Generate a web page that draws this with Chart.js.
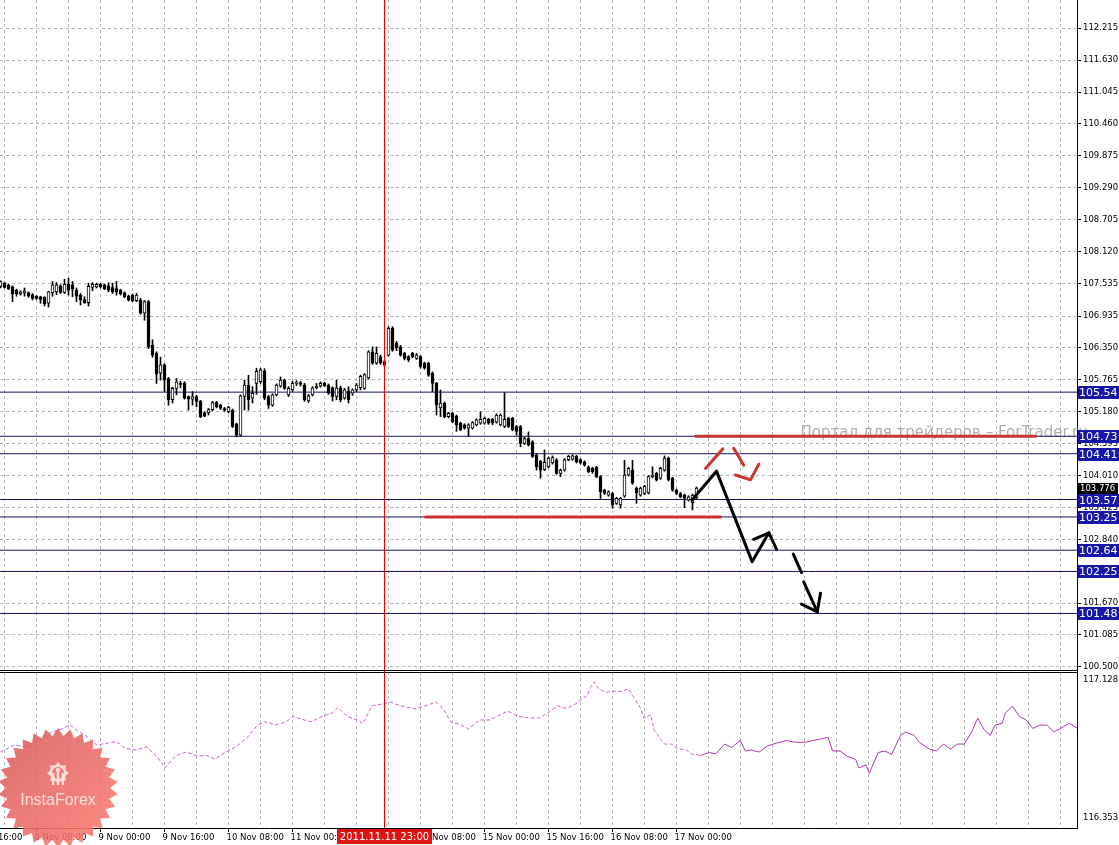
<!DOCTYPE html>
<html>
<head>
<meta charset="utf-8">
<script src="https://cdn.jsdelivr.net/npm/chart.js@4.4.0/dist/chart.umd.min.js"></script>
<style>
html, body { margin: 0; padding: 0; background: #fff; overflow: hidden; }
</style>
</head>
<body>
<canvas id="mtChart" width="1119" height="845"></canvas>
<script>
// H1 candles, bar 0 = 8 Nov 00:00, weekend skipped (14 Nov 00:00 = bar 96)
var firstBar = -1;
var candleOpen = [
107.48,107.54,107.50,107.47,107.41,107.34,107.36,107.36,107.33,107.30,
107.29,107.28,107.17,107.36,107.38,107.49,107.37,107.52,107.51,107.41,
107.32,107.24,107.18,107.46,107.47,107.52,107.51,107.49,107.46,107.44,
107.41,107.36,107.30,107.32,107.22,107.23,106.99,107.20,106.40,106.25,
105.89,106.04,105.79,105.40,105.61,105.70,105.71,105.46,105.41,105.46,
105.37,105.16,105.16,105.22,105.35,105.30,105.24,105.18,105.21,104.96,
104.75,105.46,105.67,105.43,105.70,105.73,105.93,105.46,105.30,105.49,
105.65,105.76,105.49,105.58,105.70,105.71,105.67,105.38,105.49,105.62,
105.65,105.70,105.67,105.62,105.46,105.62,105.43,105.56,105.52,105.58,
105.62,105.61,105.80,106.28,106.07,106.19,106.10,106.22,106.71,106.44,
106.37,106.25,106.19,106.25,106.16,106.19,106.07,106.07,105.89,105.70,
105.25,105.34,105.09,105.15,105.10,104.97,104.94,104.88,104.88,104.94,
104.97,104.97,105.04,105.04,104.99,104.94,104.91,105.06,105.06,104.91,
104.91,104.60,104.69,104.63,104.39,104.27,104.12,104.17,104.24,104.30,
104.05,104.11,104.30,104.31,104.36,104.30,104.26,104.17,104.14,104.16,
103.99,103.74,103.65,103.68,103.50,103.47,103.63,104.02,104.11,103.78,
103.65,103.68,103.69,103.99,104.05,103.96,104.11,104.33,103.96,103.74,
103.68,103.65,103.56,103.51,103.60
];
var candleHigh = [
107.58,107.56,107.52,107.49,107.43,107.40,107.45,107.38,107.35,107.31,
107.30,107.29,107.39,107.57,107.55,107.51,107.61,107.63,107.57,107.45,
107.35,107.29,107.54,107.55,107.54,107.54,107.52,107.55,107.54,107.57,
107.43,107.38,107.32,107.34,107.35,107.26,107.22,107.22,106.50,106.28,
106.18,106.06,105.81,105.63,105.79,105.74,105.73,105.47,105.55,105.48,
105.39,105.18,105.24,105.37,105.37,105.32,105.26,105.28,105.23,104.97,
105.49,105.76,105.85,105.64,105.98,105.98,105.97,105.48,105.51,105.69,
105.82,105.78,105.64,105.74,105.75,105.74,105.70,105.50,105.64,105.70,
105.73,105.72,105.69,105.64,105.76,105.65,105.61,105.64,105.60,105.70,
105.85,105.88,106.30,106.37,106.37,106.22,106.12,106.74,106.74,106.47,
106.40,106.27,106.21,106.27,106.25,106.21,106.09,106.09,105.91,105.72,
105.58,105.36,105.17,105.17,105.12,104.99,104.96,104.96,105.00,105.05,
105.18,105.08,105.06,105.06,105.14,105.14,105.53,105.08,105.08,104.93,
104.93,104.71,104.81,104.65,104.41,104.29,104.48,104.35,104.37,104.32,
104.13,104.32,104.38,104.39,104.38,104.32,104.28,104.19,104.16,104.18,
104.01,103.76,103.73,103.70,103.61,103.61,104.29,104.16,104.29,103.80,
103.80,103.83,104.01,104.17,104.07,104.16,104.37,104.35,103.98,103.76,
103.70,103.67,103.64,103.67,103.80
];
var candleLow = [
107.45,107.45,107.42,107.20,107.30,107.32,107.30,107.28,107.23,107.24,
107.17,107.12,107.10,107.30,107.33,107.35,107.35,107.32,107.29,107.20,
107.14,107.17,107.12,107.40,107.45,107.45,107.42,107.38,107.35,107.32,
107.32,107.27,107.21,107.20,107.20,106.97,106.86,106.34,106.18,105.70,
105.76,105.55,105.30,105.34,105.49,105.62,105.41,105.21,105.30,105.27,
105.07,105.09,105.12,105.20,105.25,105.22,105.19,105.16,104.89,104.72,
104.73,105.21,105.21,105.34,105.50,105.70,105.40,105.24,105.28,105.47,
105.63,105.59,105.46,105.55,105.66,105.65,105.37,105.35,105.47,105.60,
105.63,105.64,105.50,105.38,105.40,105.36,105.41,105.34,105.48,105.55,
105.58,105.59,105.78,106.05,106.05,106.05,106.00,106.20,106.29,106.30,
106.20,106.13,106.10,106.17,106.14,105.98,105.96,105.83,105.55,105.12,
105.09,105.07,105.07,104.98,104.82,104.83,104.86,104.73,104.86,104.92,
104.95,104.95,104.95,104.94,104.97,104.92,104.89,104.89,104.83,104.75,
104.54,104.58,104.55,104.34,104.11,103.96,104.10,104.15,104.22,104.03,
103.99,104.09,104.28,104.29,104.24,104.22,104.18,104.06,104.05,103.97,
103.59,103.66,103.63,103.41,103.48,103.41,103.61,104.00,103.85,103.50,
103.63,103.66,103.67,103.97,103.91,103.94,104.09,103.91,103.72,103.66,
103.60,103.42,103.54,103.38,103.58
];
var candleClose = [
107.57,107.46,107.44,107.34,107.34,107.38,107.40,107.30,107.26,107.26,
107.24,107.16,107.38,107.51,107.51,107.37,107.52,107.41,107.43,107.30,
107.23,107.18,107.48,107.52,107.52,107.47,107.44,107.41,107.38,107.38,
107.34,107.29,107.23,107.22,107.32,106.99,107.20,106.37,106.22,105.87,
106.04,105.76,105.40,105.61,105.73,105.68,105.43,105.41,105.46,105.37,
105.09,105.10,105.22,105.35,105.27,105.24,105.21,105.26,104.91,104.75,
105.47,105.67,105.40,105.52,105.92,105.95,105.43,105.30,105.49,105.67,
105.76,105.61,105.61,105.70,105.71,105.68,105.40,105.47,105.62,105.65,
105.70,105.66,105.52,105.46,105.62,105.40,105.58,105.40,105.58,105.67,
105.83,105.86,106.28,106.07,106.25,106.07,106.04,106.71,106.31,106.35,
106.22,106.16,106.13,106.19,106.22,106.01,105.98,105.85,105.70,105.30,
105.34,105.09,105.15,105.00,104.94,104.85,104.88,104.94,104.98,105.03,
105.04,105.06,104.97,104.97,105.12,105.12,105.04,104.91,104.85,104.82,
104.60,104.69,104.57,104.36,104.17,104.11,104.25,104.33,104.34,104.05,
104.11,104.30,104.36,104.37,104.26,104.24,104.20,104.08,104.08,103.99,
103.71,103.68,103.71,103.47,103.59,103.59,104.02,104.14,103.87,103.69,
103.78,103.81,103.99,104.02,103.93,104.14,104.33,103.93,103.74,103.68,
103.62,103.59,103.62,103.65,103.78
];
var lastPriceLabel = '103.776';

// lower window indicator (dotted part = history, solid = projection)
var indBars = [
-1, 2.5, 6.2, 8.8, 11.5, 14.2, 16.4, 18.2, 20.4, 23.1,
25.8, 28, 30.3, 32.9, 35.6, 38.3, 40.1, 42.8, 45.4, 48.1,
50.8, 52.5, 55.3, 57.9, 60.6, 63.3, 65, 67.8, 70.4, 72.2,
74.9, 76.7, 79.4, 82, 83.4, 85.6, 88.3, 89.6, 91.9, 94.5,
96.3, 99, 102.6, 105.3, 107.9, 109.7, 111.5, 114.2, 116, 118.7,
121.3, 124, 125.8, 128.5, 131.2, 133.8, 136.5, 138.3, 139.6, 140.9,
142.6, 144.3, 145.6, 146.5, 147.4, 148.6, 150.4, 152.1, 154.3, 156,
157.3, 159, 159.8, 161.6, 162.4, 163.7, 165, 166.7, 168.4, 170.2,
171.9, 174, 176.2, 177.9, 180, 181.8, 183.9, 185.2, 186.5, 188.7,
190.8, 193, 195.6, 197.7, 200.3, 202, 204.2, 205.9, 207, 208.9,
210.6, 212.8, 213.6, 215.4, 216.2, 218.4, 220.1, 221.8, 224, 225.3,
227.4, 228.7, 231.3, 233, 234.7, 236.5, 238.2, 239.9, 241.6, 243.3,
245, 246.4, 247.6, 249.4, 250.2, 252, 253.7, 255.4, 257.1, 258.8,
260.6, 262.3, 264, 266.2, 268.3
];
var indValues = [
116.728,116.763,116.753,116.789,116.827,116.844,116.865,116.836,116.809,116.763,
116.773,116.781,116.745,116.738,116.754,116.700,116.647,116.709,116.728,116.709,
116.709,116.692,116.728,116.754,116.799,116.865,116.881,116.865,116.881,116.908,
116.890,116.881,116.908,116.926,116.953,116.908,116.890,116.872,116.962,116.971,
116.981,116.962,116.946,116.962,116.981,116.946,116.881,116.865,116.844,116.890,
116.890,116.917,116.935,116.908,116.900,116.900,116.935,116.962,116.951,116.951,
116.969,116.995,117.012,117.056,117.082,117.047,117.030,117.035,117.035,117.047,
117.004,116.951,116.899,116.916,116.838,116.803,116.768,116.768,116.742,116.742,
116.716,116.711,116.725,116.719,116.768,116.751,116.786,116.733,116.738,116.728,
116.759,116.773,116.786,116.777,116.777,116.786,116.794,116.803,116.733,116.733,
116.707,116.690,116.647,116.663,116.620,116.725,116.733,116.716,116.812,116.829,
116.812,116.777,116.742,116.733,116.768,116.742,116.768,116.768,116.821,116.899,
116.838,116.812,116.864,116.873,116.925,116.960,116.908,116.890,116.847,116.864,
116.864,116.829,116.847,116.873,116.847
];
var indSolidFrom = 174;
var indScaleLabels = ['117.128', '116.353'];

// horizontal levels with their axis labels
var levelPrices = [105.54, 104.73, 104.41, 103.57, 103.25, 102.64, 102.25, 101.48];
var levelLabels = ['105.54', '104.73', '104.41', '103.57', '103.25', '102.64', '102.25', '101.48'];

// price scale labels as MT4 prints them
var priceTicks = [112.215, 111.630, 111.045, 110.460, 109.875, 109.290, 108.705, 108.120, 107.535,
  106.935, 106.350, 105.765, 105.180, 104.595, 104.010, 103.425, 102.840, 102.255, 101.670, 101.085, 100.500];
var priceTickLabels = ['112.215', '111.630', '111.045', '110.460', '109.875', '109.290', '108.705', '108.120', '107.535',
  '106.935', '106.350', '105.765', '105.180', '104.595', '104.010', '103.425', '102.840', '102.255', '101.670', '101.085', '100.500'];

// time scale
var timeTickBars = [-8, 8, 24, 40, 56, 72, 88, 104, 120, 136, 152, 168];
var timeTickLabels = ['7 Nov 16:00', '8 Nov 08:00', '9 Nov 00:00', '9 Nov 16:00', '10 Nov 08:00', '11 Nov 00:00',
  '11 Nov 16:00', '14 Nov 08:00', '15 Nov 00:00', '15 Nov 16:00', '16 Nov 08:00', '17 Nov 00:00'];
var crossBar = 95;
var crossLabel = '2011.11.11 23:00';

// hand drawn objects: [bars], [prices]
var resistBars = [172.75, 257.75], resistPrices = [104.73, 104.73];
var supportBars = [105.25, 179], supportPrices = [103.25, 103.25];
var arrowBars = [171.9, 178, 186.9, 191.1, 193], arrowPrices = [103.56, 104.09, 102.43, 102.96, 102.66];
var arrowTipBars = [187.3, 191.1], arrowTipPrices = [102.84, 102.96];
var dash1Bars = [197.2, 199.25], dash1Prices = [102.57, 102.23];
var dash2Bars = [199.8, 203.2], dash2Prices = [102.06, 101.51];
var head1Bars = [199.25, 203.2], head1Prices = [101.65, 101.51];
var head2Bars = [204, 203.2], head2Prices = [101.85, 101.51];
var redUpBars = [175.25, 179.6], redUpPrices = [104.14, 104.50];
var redDownBars = [182.3, 184.8], redDownPrices = [104.51, 104.20];
var redHeadBars = [182.75, 186.5, 188.6], redHeadPrices = [104.02, 103.93, 104.22];

var watermarkText = 'Портал для трейдеров – ForTrader.ru';
var watermarkBar = 199, watermarkPrice = 104.79;

var axisFont = {family: '"DejaVu Sans", sans-serif', size: 8.5};

function pts(xs, ys) {
  var out = [];
  for (var i = 0; i < xs.length; i++) out.push({x: xs[i], y: ys[i]});
  return out;
}

function drawLine(xs, ys, color, width, order, axis, dash) {
  return {
    type: 'line', data: pts(xs, ys), borderColor: color, borderWidth: width,
    pointRadius: 0, fill: false, tension: 0, order: order, yAxisID: axis || 'y',
    borderDash: dash || [], borderCapStyle: 'round', borderJoinStyle: 'round'
  };
}

var wickData = [], bodyData = [], bodyFill = [];
for (var i = 0; i < candleOpen.length; i++) {
  var b = firstBar + i, o = candleOpen[i], c = candleClose[i];
  wickData.push({x: b, y: [candleLow[i], candleHigh[i]]});
  bodyData.push({x: b, y: [Math.min(o, c), Math.max(o, c)]});
  bodyFill.push(c >= o ? '#ffffff' : '#000000');
}

var histBars = [], histVals = [], projBars = [], projVals = [];
for (var j = 0; j < indBars.length; j++) {
  if (indBars[j] <= indSolidFrom) { histBars.push(indBars[j]); histVals.push(indValues[j]); }
  if (indBars[j] >= indSolidFrom) { projBars.push(indBars[j]); projVals.push(indValues[j]); }
}

var datasets = [
  {type: 'bar', data: wickData, backgroundColor: '#000', borderWidth: 0, barThickness: 1, grouped: false, order: 6, yAxisID: 'y'},
  {type: 'bar', data: bodyData, backgroundColor: bodyFill, borderColor: '#000', borderWidth: 1, borderSkipped: false,
    barThickness: 3, minBarLength: 1, grouped: false, order: 5, yAxisID: 'y'},
  drawLine(histBars, histVals, '#c862c8', 1, 8, 'y2', [3, 3]),
  drawLine(projBars, projVals, '#a83aa8', 1, 8, 'y2'),
  drawLine(resistBars, resistPrices, '#cc3333', 3, 2),
  drawLine(supportBars, supportPrices, '#cc3333', 3, 2),
  drawLine(arrowBars, arrowPrices, '#000', 3, 1),
  drawLine(arrowTipBars, arrowTipPrices, '#000', 3, 1),
  drawLine(dash1Bars, dash1Prices, '#000', 3, 1),
  drawLine(dash2Bars, dash2Prices, '#000', 3, 1),
  drawLine(head1Bars, head1Prices, '#000', 3, 1),
  drawLine(head2Bars, head2Prices, '#000', 3, 1),
  drawLine(redUpBars, redUpPrices, '#cc3333', 3, 1),
  drawLine(redDownBars, redDownPrices, '#cc3333', 3, 1),
  drawLine(redHeadBars, redHeadPrices, '#cc3333', 3, 1)
];
for (var k = 0; k < levelPrices.length; k++) {
  datasets.push(drawLine([-2, 270], [levelPrices[k], levelPrices[k]], '#14145e', 1, 7));
}

function drawBadge(ctx, cx, cy) {
  var spikes = 30, R = 60, r = 52;
  ctx.save();
  ctx.globalAlpha = 0.88;
  var g = ctx.createLinearGradient(cx - R, cy - R, cx + R, cy + R);
  g.addColorStop(0, '#d65a5a');
  g.addColorStop(1, '#ff7c72');
  ctx.beginPath();
  for (var i = 0; i < spikes * 2; i++) {
    var a = Math.PI * i / spikes - Math.PI / 2;
    var rad = i % 2 ? r : R;
    ctx.lineTo(cx + rad * Math.cos(a), cy + rad * Math.sin(a));
  }
  ctx.closePath();
  ctx.fillStyle = g;
  ctx.fill();
  // little gear + figure icon
  var ix = cx, iy = cy - 15;
  ctx.fillStyle = '#ffe8e4';
  ctx.beginPath();
  for (var t = 0; t < 16; t++) {
    var an = Math.PI * t / 8;
    var rr = t % 2 ? 8 : 11;
    ctx.lineTo(ix + rr * Math.cos(an), iy + rr * Math.sin(an));
  }
  ctx.closePath();
  ctx.fill();
  ctx.fillStyle = '#e8706a';
  ctx.beginPath(); ctx.arc(ix, iy, 6, 0, Math.PI * 2); ctx.fill();
  ctx.fillStyle = '#ffe8e4';
  ctx.beginPath(); ctx.arc(ix, iy - 3, 2.2, 0, Math.PI * 2); ctx.fill();
  ctx.fillRect(ix - 1.2, iy - 1, 2.4, 13);
  ctx.fillRect(ix - 6, iy, 2.4, 12);
  ctx.fillRect(ix + 3.6, iy, 2.4, 12);
  ctx.font = '16px "Liberation Sans", Arial, sans-serif';
  ctx.textAlign = 'center';
  ctx.textBaseline = 'middle';
  ctx.fillText('InstaForex', cx, cy + 13);
  ctx.restore();
}

var mtOverlay = {
  id: 'mtOverlay',
  beforeDatasetsDraw: function(chart) {
    var ctx = chart.ctx;
    ctx.save();
    ctx.font = '15px "DejaVu Sans", sans-serif';
    ctx.fillStyle = 'rgba(150,150,150,0.75)';
    ctx.textBaseline = 'middle';
    ctx.fillText(watermarkText, chart.scales.x.getPixelForValue(watermarkBar), chart.scales.y.getPixelForValue(watermarkPrice));
    ctx.restore();
  },
  afterDraw: function(chart) {
    var ctx = chart.ctx, area = chart.chartArea;
    var ys = chart.scales.y, y2 = chart.scales.y2, xs = chart.scales.x;
    ctx.save();
    // crosshair
    var cx = xs.getPixelForValue(crossBar);
    ctx.fillStyle = '#ee0000';
    ctx.fillRect(Math.round(cx - 0.5), area.top, 1, area.bottom - area.top);
    // window separator
    var sep = Math.round(ys.bottom);
    ctx.fillStyle = '#000';
    ctx.fillRect(0, sep - 1, area.right, 1);
    ctx.fillRect(0, sep + 1, area.right, 1);
    // level labels on the price scale
    ctx.textBaseline = 'middle';
    ctx.textAlign = 'left';
    ctx.font = '11px "DejaVu Sans", sans-serif';
    for (var i = 0; i < levelPrices.length; i++) {
      var py = Math.round(ys.getPixelForValue(levelPrices[i]));
      ctx.fillStyle = '#1616aa';
      ctx.fillRect(area.right + 1, py - 6, 42, 13);
      ctx.fillStyle = '#fff';
      ctx.fillText(levelLabels[i], area.right + 2, py + 1);
    }
    // current bid
    var last = candleClose[candleClose.length - 1];
    var ly = Math.round(ys.getPixelForValue(last));
    ctx.font = '8.5px "DejaVu Sans", sans-serif';
    ctx.fillStyle = '#000';
    ctx.fillRect(area.right + 1, ly - 5, 40, 11);
    ctx.fillStyle = '#fff';
    ctx.fillText(lastPriceLabel, area.right + 3, ly + 0.5);
    // indicator window max / min
    ctx.fillStyle = '#000';
    ctx.fillText(indScaleLabels[0], area.right + 6, y2.top + 9);
    ctx.fillText(indScaleLabels[1], area.right + 6, y2.bottom - 10);
    // crosshair time label
    ctx.font = '10px "DejaVu Sans", sans-serif';
    var w = ctx.measureText(crossLabel).width + 6;
    ctx.fillStyle = '#dc1414';
    ctx.fillRect(Math.round(cx - w / 2), area.bottom + 1, Math.round(w), 15);
    ctx.fillStyle = '#fff';
    ctx.textAlign = 'center';
    ctx.fillText(crossLabel, cx, area.bottom + 9);
    ctx.restore();
    drawBadge(ctx, 58, 788);
  }
};

var gridGray = '#b4b4b4';
var mtChart = new Chart(document.getElementById('mtChart'), {
  type: 'bar',
  data: {datasets: datasets},
  options: {
    responsive: false,
    animation: false,
    devicePixelRatio: 1,
    events: [],
    layout: {padding: 0},
    plugins: {legend: {display: false}, tooltip: {enabled: false}},
    scales: {
      x: {
        type: 'linear', min: -1.125, max: 268.125, offset: false, bounds: 'data',
        grid: {color: gridGray, offset: false, tickLength: 4,
          tickColor: function(c) { return c.tick && timeTickBars.indexOf(c.tick.value) >= 0 ? '#000' : 'rgba(0,0,0,0)'; }},
        border: {color: '#000', dash: [3, 3]},
        ticks: {
          font: axisFont, color: '#000',
          autoSkip: false, maxRotation: 0, minRotation: 0, align: 'start', labelOffset: -2, padding: 1,
          callback: function(v) { var n = timeTickBars.indexOf(v); return n >= 0 ? timeTickLabels[n] : ''; }
        },
        afterBuildTicks: function(s) {
          var t = [];
          for (var v = -8; v <= 264; v += 8) t.push({value: v});
          s.ticks = t;
        },
        afterFit: function(s) { s.height = 17; s.paddingLeft = 0; s.paddingRight = 0; }
      },
      y: {
        type: 'linear', position: 'right', stack: 'mt', stackWeight: 671,
        min: 100.424, max: 112.734, bounds: 'data',
        grid: {color: gridGray, tickLength: 4, tickColor: '#000'},
        border: {color: '#000', dash: [3, 3]},
        ticks: {font: axisFont, color: '#000', autoSkip: false, padding: 2,
          callback: function(v, i) { return priceTickLabels[i]; }},
        afterBuildTicks: function(s) { s.ticks = priceTicks.map(function(v) { return {value: v}; }); },
        afterFit: function(s) { s.width = 42; s.paddingTop = 0; s.paddingBottom = 0; }
      },
      y2: {
        type: 'linear', position: 'right', stack: 'mt', stackWeight: 157,
        min: 116.343, max: 117.138, bounds: 'data',
        grid: {display: false},
        border: {color: '#000'},
        ticks: {display: false},
        afterFit: function(s) { s.width = 42; s.paddingTop = 0; s.paddingBottom = 0; }
      }
    }
  },
  plugins: [mtOverlay]
});
</script>
</body>
</html>
